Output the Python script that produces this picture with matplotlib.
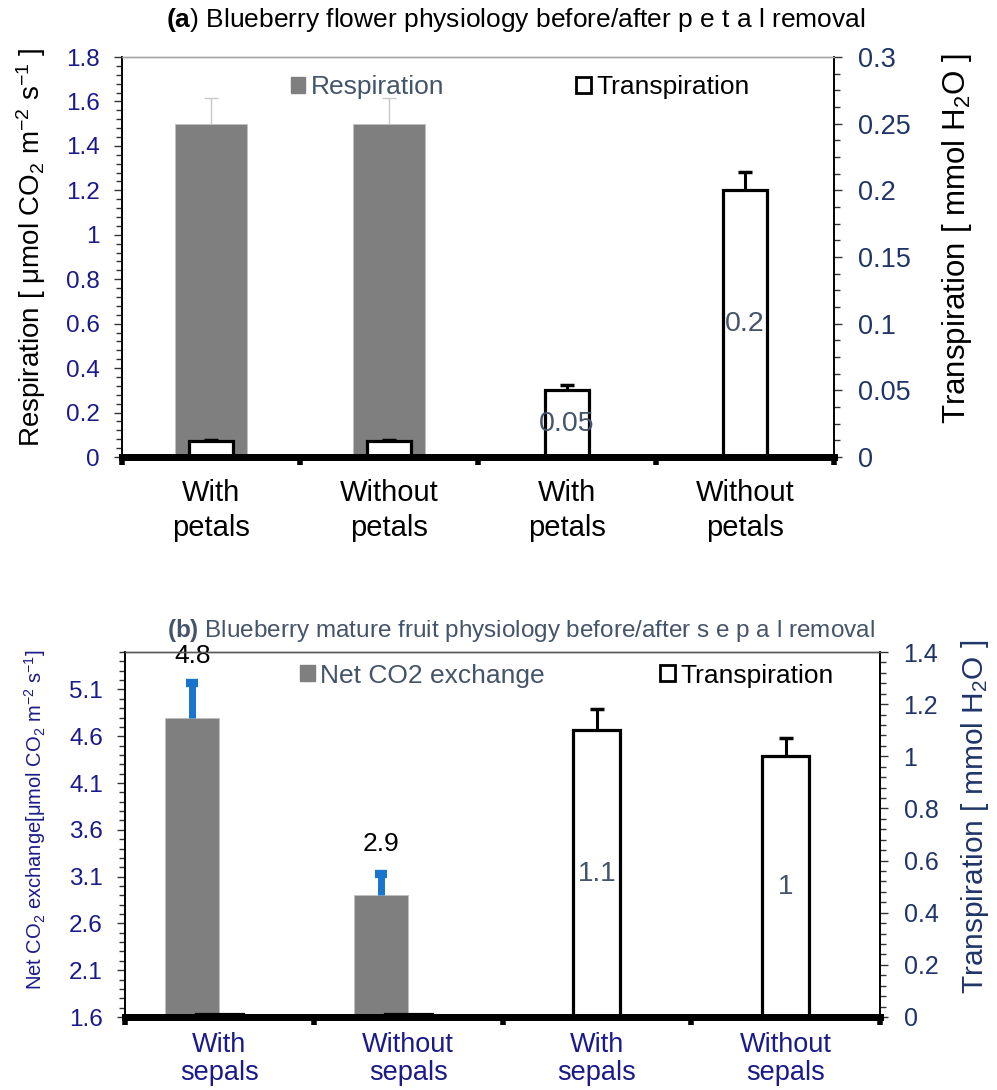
import numpy as np
import matplotlib.pyplot as plt
from matplotlib.patches import Patch
from matplotlib.ticker import FixedLocator, MultipleLocator, FuncFormatter

plt.rcParams['font.family'] = ['Liberation Sans', 'DejaVu Sans']
plt.rcParams['mathtext.fontset'] = 'custom'
plt.rcParams['mathtext.rm'] = 'Liberation Sans'
plt.rcParams['mathtext.it'] = 'Liberation Sans:italic'
plt.rcParams['mathtext.bf'] = 'Liberation Sans:bold'

# ---- data panel (a)
cats_a = ['With\npetals', 'Without\npetals', 'With\npetals', 'Without\npetals']
resp_a = [1.5, 1.5]
resp_err_a = [0.115, 0.115]
trans_a = [0.012, 0.012, 0.05, 0.2]
trans_err_a = [0.001, 0.001, 0.004, 0.014]
trans_lbl_a = ['', '', '0.05', '0.2']

# ---- data panel (b)
cats_b = ['With\nsepals', 'Without\nsepals', 'With\nsepals', 'Without\nsepals']
co2_b = [4.8, 2.9]
co2_err_b = [0.37, 0.23]
co2_lbl_b = ['4.8', '2.9']
co2_lbl_off = [44, 37]   # points above bar top
trans_b = [0.012, 0.012, 1.1, 1.0]
trans_err_b = [0, 0, 0.08, 0.07]
trans_lbl_b = ['', '', '1.1', '1']

GRAY = '#7f7f7f'
NAVY = '#1a1a8a'
NAVY2 = '#1f3468'
SLATE = '#44546a'

fmt = FuncFormatter(lambda v, p: f'{round(v, 4):g}')

fig = plt.figure(figsize=(9.97, 10.9), dpi=100)


def up_err(ax, xs, vals, errs, color, lw, capw, capt):
    xs = np.asarray(xs, float)
    vals = np.asarray(vals, float)
    errs = np.asarray(errs, float)
    m = errs > 0
    tops = vals + errs
    ax.vlines(xs[m], vals[m], tops[m], color=color, lw=lw, zorder=3)
    ax.plot(xs[m], tops[m], ls='none', marker='_', ms=capw, mew=capt, color=color, zorder=3)


def style_axes(ax1, ax2, cats, lab_color, top_color, cat_size, cat_pad, cat_ls, lsize, rsize):
    x = np.arange(len(cats))
    ax1.set_xlim(-0.5, len(cats) - 0.5)
    ax1.set_xticks(np.arange(-0.5, len(cats), 1))
    ax1.set_xticklabels([''] * (len(cats) + 1))
    ax1.set_xticks(x, minor=True)
    ax1.set_xticklabels(cats, minor=True, fontsize=cat_size, color=lab_color, linespacing=cat_ls)
    ax1.tick_params(axis='x', which='major', length=6, width=4, color='black', direction='out')
    ax1.tick_params(axis='x', which='minor', length=0, pad=cat_pad)
    for ax in (ax1, ax2):
        ax.spines['top'].set_color(top_color)
        ax.spines['top'].set_linewidth(1)
        ax.spines['bottom'].set_linewidth(5)
        ax.spines['bottom'].set_color('black')
        ax.spines['left'].set_linewidth(1.2)
        ax.spines['right'].set_linewidth(1.2)
    ax1.tick_params(axis='y', which='major', length=6, width=1, pad=10, labelsize=lsize, colors='#333333')
    ax1.tick_params(axis='y', which='minor', length=4, width=1, colors='#333333')
    ax2.tick_params(axis='y', which='major', length=6, width=1, pad=11, labelsize=rsize, colors='#333333')
    ax2.tick_params(axis='y', which='minor', length=4, width=1, colors='#333333')
    ax1.yaxis.set_major_formatter(fmt)
    ax2.yaxis.set_major_formatter(fmt)


def two_legends(ax, lab1, col1, x1, lab2, x2, y, size):
    kw = dict(loc='center left', frameon=False, fontsize=size, handlelength=0.55, handleheight=0.55,
              handletextpad=0.2, borderpad=0, borderaxespad=0)
    l1 = ax.legend(handles=[Patch(facecolor=GRAY, edgecolor=GRAY)], labels=[lab1],
                   bbox_to_anchor=(x1, y), labelcolor=col1, **kw)
    ax.add_artist(l1)
    ax.legend(handles=[Patch(facecolor='white', edgecolor='black', linewidth=2)], labels=[lab2],
              bbox_to_anchor=(x2, y), labelcolor='black', **kw)


# ================= panel (a)
ax1 = fig.add_axes([122 / 997, 1 - 457 / 1090, 712 / 997, 400 / 1090])
ax2 = ax1.twinx()
x = np.arange(len(cats_a))

ax1.bar(x[:2], resp_a, width=0.4, color=GRAY, edgecolor='#c0c0c0', linewidth=0.6)
up_err(ax1, x[:2], resp_a, resp_err_a, '#c8c8c8', 1.0, 10, 1.0)
ax2.bar(x, trans_a, width=0.25, facecolor='white', edgecolor='black', linewidth=2.3)
up_err(ax2, x, trans_a, trans_err_a, 'black', 2.2, 10, 2.5)
for xi, v, t in zip(x, trans_a, trans_lbl_a):
    if t:
        ax2.text(xi, v / 2, t, ha='center', va='center', fontsize=20.5, color=SLATE)

ax1.set_ylim(0, 1.8)
ax1.yaxis.set_major_locator(MultipleLocator(0.2))
ax1.yaxis.set_minor_locator(MultipleLocator(0.04))
ax2.set_ylim(0, 0.3)
ax2.yaxis.set_major_locator(MultipleLocator(0.05))
ax2.yaxis.set_minor_locator(MultipleLocator(0.0125))
style_axes(ax1, ax2, cats_a, 'black', '#a6a6a6', 21, 16, 1.32, 17.5, 19.5)
for lbl in ax1.get_yticklabels():
    lbl.set_color(NAVY)
for lbl in ax2.get_yticklabels():
    lbl.set_color(NAVY2)

ax1.set_ylabel(r'Respiration [ μmol CO$_2$ m$^{-2}$ s$^{-1}$ ]', fontsize=20, color='black')
ax1.yaxis.set_label_coords(-0.104, 0.525)
ax2.set_ylabel(r'Transpiration [ mmol H$_2$O ]', fontsize=22.5, color='black')
ax2.yaxis.set_label_coords(1.149, 0.545)

two_legends(ax2, 'Respiration', SLATE, 0.237, 'Transpiration', 0.638, 0.925, 19)

fig.text(516 / 997, 1 - 20 / 1090, r'$\mathbf{(a}$) Blueberry flower physiology before/after p e t a l removal',
         ha='center', va='center', fontsize=19, color='black')

# ================= panel (b)
bx1 = fig.add_axes([125 / 997, 1 - 1017 / 1090, 755 / 997, 365 / 1090])
bx2 = bx1.twinx()
x = np.arange(len(cats_b))

bars = bx1.bar(x[:2], co2_b, width=-0.286, align='edge', color=GRAY, edgecolor='#c0c0c0', linewidth=0.6)
cx = [b.get_x() + b.get_width() / 2 for b in bars]
up_err(bx1, cx, co2_b, co2_err_b, '#1874cd', 5, 8, 6)
for xc, v, t, off in zip(cx, co2_b, co2_lbl_b, co2_lbl_off):
    bx1.annotate(t, (xc, v), xytext=(0, off), textcoords='offset points',
                 ha='center', va='center', fontsize=19, color='black')
bx2.bar(x, trans_b, width=0.25, facecolor='white', edgecolor='black', linewidth=2.3)
up_err(bx2, x, trans_b, trans_err_b, 'black', 2.2, 10, 2.5)
for xi, v, t in zip(x, trans_b, trans_lbl_b):
    if t:
        bx2.text(xi, v / 2, t, ha='center', va='center', fontsize=20, color=SLATE)

bx1.set_ylim(1.6, 5.5)
bx1.yaxis.set_major_locator(FixedLocator(np.arange(1.6, 5.2, 0.5)))
bx1.yaxis.set_minor_locator(FixedLocator(np.arange(1.6, 5.55, 0.1)))
bx2.set_ylim(0, 1.4)
bx2.yaxis.set_major_locator(MultipleLocator(0.2))
bx2.yaxis.set_minor_locator(MultipleLocator(0.04))
style_axes(bx1, bx2, cats_b, NAVY, '#595959', 19.5, 11, 1.1, 17.5, 18)
for lbl in bx1.get_yticklabels():
    lbl.set_color(NAVY)
for lbl in bx2.get_yticklabels():
    lbl.set_color(NAVY2)

bx1.set_ylabel(r'Net CO$_2$ exchange[μmol CO$_2$ m$^{-2}$ s$^{-1}$]', fontsize=14.5, color=NAVY)
bx1.yaxis.set_label_coords(-0.102, 0.54)
bx2.set_ylabel(r'Transpiration [ mmol H$_2$O ]', fontsize=21.5, color=NAVY2)
bx2.yaxis.set_label_coords(1.105, 0.55)

two_legends(bx2, 'Net CO2 exchange', SLATE, 0.232, 'Transpiration', 0.709, 0.935, 19)

fig.text(521 / 997, 1 - 631 / 1090, r'$\mathbf{(b)}$ Blueberry mature fruit physiology before/after s e p a l removal',
         ha='center', va='center', fontsize=17.5, color=SLATE)

fig.savefig('out.png', dpi=100)
